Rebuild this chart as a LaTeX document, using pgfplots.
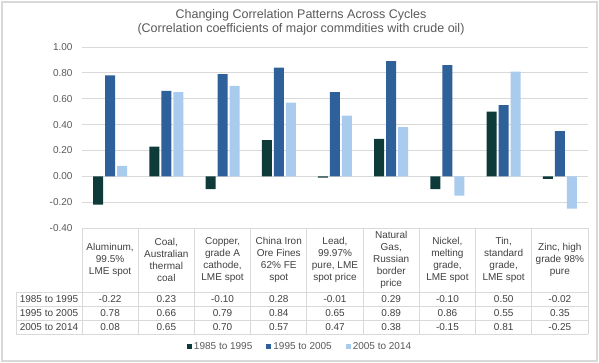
\documentclass[border=0pt]{standalone}
\usepackage{pgfplots}
\pgfplotsset{compat=1.18}
\usepackage{pgfplotstable}
\usepackage{fontspec}
\setmainfont{Liberation Sans}
\definecolor{cA}{HTML}{0F3A3A}
\definecolor{cB}{HTML}{2E6099}
\definecolor{cC}{HTML}{A9CBEE}
\definecolor{gridc}{HTML}{D9D9D9}
\definecolor{txt}{HTML}{595959}
\definecolor{tbl}{HTML}{404040}

\pgfplotstableread{
x a b c
0 -0.22 0.78 0.08
1 0.23 0.66 0.65
2 -0.10 0.79 0.70
3 0.28 0.84 0.57
4 -0.01 0.65 0.47
5 0.29 0.89 0.38
6 -0.10 0.86 -0.15
7 0.50 0.55 0.81
8 -0.02 0.35 -0.25
}\datatable

\begin{document}
\begin{tikzpicture}[font=\fontsize{10}{12}\selectfont]
\path[use as bounding box] (-82pt,-135pt) rectangle (517pt,228pt);
\draw[gridc, line width=1.2pt] (-80pt,-133pt) rectangle (515pt,226pt);
\begin{axis}[
  at={(0pt,0pt)}, anchor=south west,
  scale only axis, width=506pt, height=181pt,
  ymin=-0.4, ymax=1.0, xmin=-0.5, xmax=8.5,
  ytick={-0.4,-0.2,0,0.2,0.4,0.6,0.8,1.0},
  ybar=2pt, bar width=10pt,
  axis line style={draw=none},
  major tick length=0pt,
  ymajorgrids, grid style={gridc, line width=0.8pt},
  xtick={0,1,2,3,4,5,6,7,8},
  xticklabels={{Aluminum,\\99.5\%\\LME spot},{Coal,\\Australian\\thermal\\coal},{Copper,\\grade A\\cathode,\\LME spot},{China Iron\\Ore Fines\\62\% FE\\spot},{Lead,\\99.97\%\\pure, LME\\spot price},{Natural\\Gas,\\Russian\\border\\price},{Nickel,\\melting\\grade,\\LME spot},{Tin,\\standard\\grade,\\LME spot},{Zinc, high\\grade 98\%\\pure}},
  xticklabel style={align=center, anchor=center, yshift=-32pt, text=tbl, font=\fontsize{10}{12}\selectfont},
  yticklabel style={/pgf/number format/.cd, fixed, fixed zerofill, precision=2, /tikz/.cd, text=txt, xshift=-6pt, font=\fontsize{10}{12}\selectfont},
  /pgf/number format/assume math mode=true,
  legend style={at={(0.431,-0.657)}, anchor=center, draw=none, legend columns=3,
    /tikz/every even column/.append style={column sep=12pt}, font=\fontsize{10}{12}\selectfont, text=txt},
  legend image code/.code={\fill[#1] (0pt,-2.5pt) rectangle (5pt,2.5pt);},
]
\addplot[fill=cA, draw=none] table[x=x, y=a] {\datatable};
\addplot[fill=cB, draw=none] table[x=x, y=b] {\datatable};
\addplot[fill=cC, draw=none] table[x=x, y=c] {\datatable};
\legend{1985 to 1995, 1995 to 2005, 2005 to 2014}
\end{axis}
% data table grid
\begin{scope}[gridc, line width=0.8pt]
\draw (0pt,0pt) -- (506pt,0pt);
\foreach \yy in {-64,-78,-92,-106} \draw (-66pt,\yy pt) -- (506pt,\yy pt);
\foreach \k in {0,...,9} \draw ({\k*56.222pt},0pt) -- ({\k*56.222pt},-106pt);
\draw (-66pt,-64pt) -- (-66pt,-106pt);
\end{scope}
\begin{scope}[text=tbl]
\node at (-33pt,-71pt) {1985 to 1995};
\node at (-33pt,-85pt) {1995 to 2005};
\node at (-33pt,-99pt) {2005 to 2014};
\foreach \v [count=\i from 0] in {-0.22,0.23,-0.10,0.28,-0.01,0.29,-0.10,0.50,-0.02}
  \node at ({(\i+0.5)*56.222pt},-71pt) {\v};
\foreach \v [count=\i from 0] in {0.78,0.66,0.79,0.84,0.65,0.89,0.86,0.55,0.35}
  \node at ({(\i+0.5)*56.222pt},-85pt) {\v};
\foreach \v [count=\i from 0] in {0.08,0.65,0.70,0.57,0.47,0.38,-0.15,0.81,-0.25}
  \node at ({(\i+0.5)*56.222pt},-99pt) {\v};
\end{scope}
\node[text=txt, font=\fontsize{12.5}{14}\selectfont] at (219pt,213pt) {Changing Correlation Patterns Across Cycles};
\node[text=txt, font=\fontsize{12.5}{14}\selectfont] at (219pt,199pt) {(Correlation coefficients of major commdities with crude oil)};
\end{tikzpicture}
\end{document}
